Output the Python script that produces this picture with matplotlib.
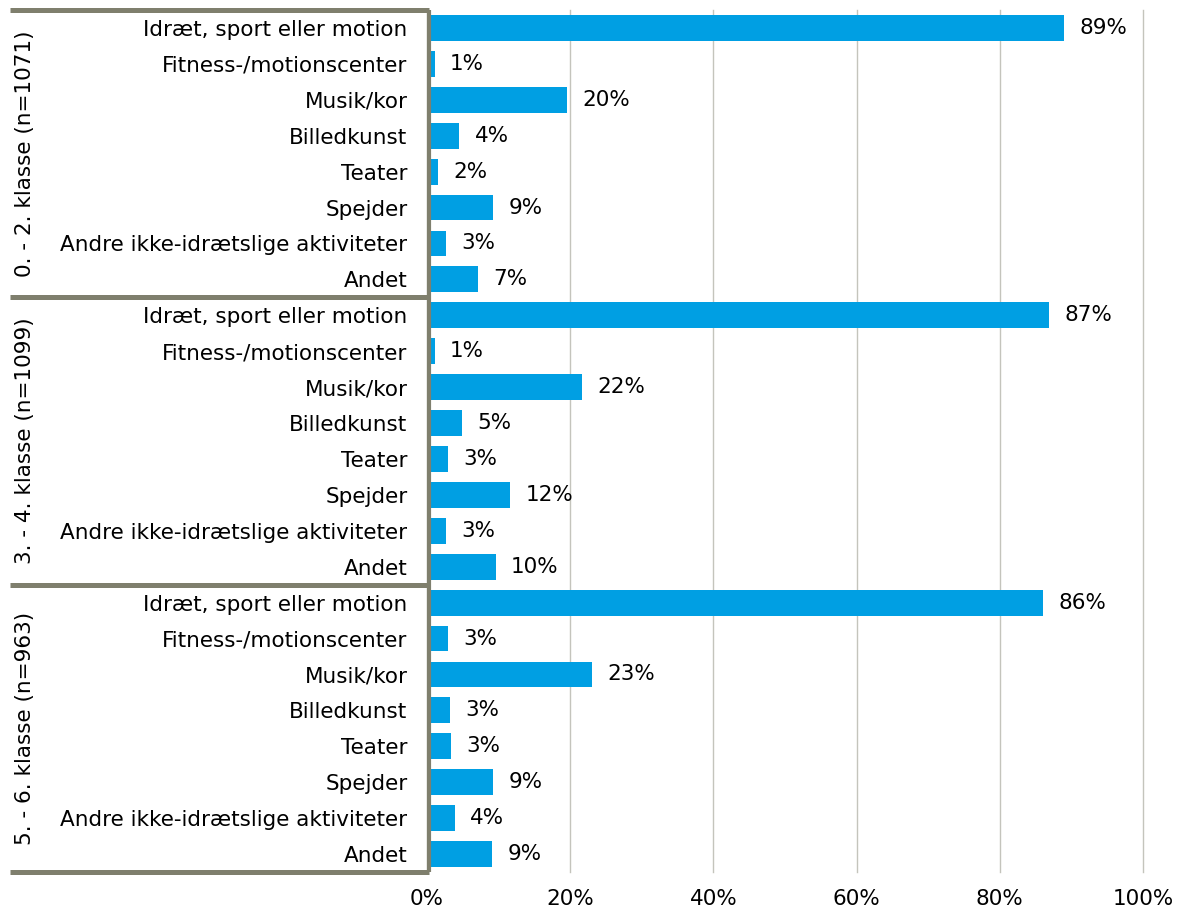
import matplotlib
matplotlib.use("Agg")
import matplotlib.pyplot as plt
import matplotlib.transforms as mtransforms

plt.rcParams['font.family'] = ['DejaVu Sans']

categories = [
    "Idræt, sport eller motion",
    "Fitness-/motionscenter",
    "Musik/kor",
    "Billedkunst",
    "Teater",
    "Spejder",
    "Andre ikke-idrætslige aktiviteter",
    "Andet",
]
groups = ["0. - 2. klasse (n=1071)", "3. - 4. klasse (n=1099)", "5. - 6. klasse (n=963)"]
values_g1 = [89.0, 1.1, 19.6, 4.5, 1.6, 9.2, 2.6, 7.1]
values_g2 = [86.9, 1.1, 21.6, 4.9, 2.9, 11.6, 2.6, 9.6]
values_g3 = [86.0, 2.9, 23.0, 3.2, 3.4, 9.2, 3.9, 9.1]
labels_g1 = ["89%", "1%", "20%", "4%", "2%", "9%", "3%", "7%"]
labels_g2 = ["87%", "1%", "22%", "5%", "3%", "12%", "3%", "10%"]
labels_g3 = ["86%", "3%", "23%", "3%", "3%", "9%", "4%", "9%"]
xticks = [0, 20, 40, 60, 80, 100]
xtick_labels = ["0%", "20%", "40%", "60%", "80%", "100%"]

FS = 15.5
W, H = 1179, 913
fig = plt.figure(figsize=(W / 100, H / 100), dpi=100)
ax = fig.add_axes([427 / W, 1 - 872 / H, (1143 - 427) / W, (872 - 10) / H])

all_vals = values_g1 + values_g2 + values_g3
all_labels = labels_g1 + labels_g2 + labels_g3
all_cats = categories * 3
ypos = list(range(len(all_vals)))

bars = ax.barh(ypos, all_vals, height=0.72, color="#009FE3", zorder=3)
ax.bar_label(bars, labels=all_labels, padding=11, fontsize=FS, color="black")

ax.set_xlim(0, 100)
ax.set_ylim(len(all_vals) - 0.5, -0.5)
ax.set_xticks(xticks)
ax.set_xticklabels(xtick_labels, fontsize=FS)
ax.set_yticks(ypos)
ax.set_yticklabels(all_cats, fontsize=FS)
ax.tick_params(axis="y", length=0, pad=14)
ax.tick_params(axis="x", length=0, pad=12)
for s in ax.spines.values():
    s.set_visible(False)
ax.grid(axis="x", color="#c4c4bc", linewidth=1, zorder=0)
for gl in ax.get_xgridlines():
    gl.set_clip_on(False)
ax.set_axisbelow(True)

line_color = "#7f7f6d"
trans = mtransforms.blended_transform_factory(ax.transAxes, ax.transData)
xleft = -(427 - 10) / (1143 - 427)
n = len(categories)
for k in range(len(groups) + 1):
    y = k * n - 0.5
    ax.plot([xleft, 0.003], [y, y], transform=trans, color=line_color,
            linewidth=3.6, clip_on=False, zorder=5, solid_capstyle="butt")
ax.plot([0.003, 0.003], [-0.5, len(all_vals) - 0.5], transform=trans, color=line_color,
        linewidth=3.0, clip_on=False, zorder=5, solid_capstyle="butt")

xg = -(427 - 25) / (1143 - 427)
for k, g in enumerate(groups):
    ax.text(xg, k * n + (n - 1) / 2, g, transform=trans, rotation=90,
            ha="center", va="center", fontsize=FS, color="black")

fig.savefig("out.png", dpi=100)
